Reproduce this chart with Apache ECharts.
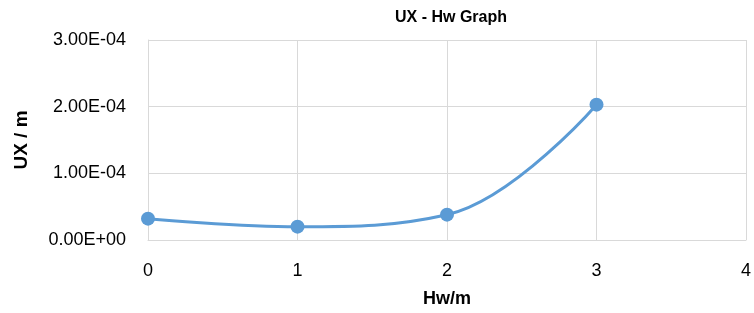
<!DOCTYPE html>
<html>
<head>
<meta charset="utf-8">
<script src="https://cdn.jsdelivr.net/npm/echarts@6/dist/echarts.min.js"></script>
<style>
  html,body{margin:0;padding:0;background:#fff;}
  #chart{width:754px;height:313px;}
</style>
</head>
<body>
<div id="chart"></div>
<script>
var hw = [0, 1, 2, 3]
var ux = [3.2e-5, 2.0e-5, 3.8e-5, 2.03e-4]

// Excel style: 1.00E-04
function sci(v){
    if (v === 0) return '0.00E+00'
    var e = Math.floor(Math.log10(Math.abs(v)) + 1e-9)
    var m = v / Math.pow(10, e)
    var s = e < 0 ? '-' : '+'
    var ee = Math.abs(e)
    return m.toFixed(2) + 'E' + s + (ee < 10 ? '0' + ee : ee)
}

var myChart = echarts.init(document.getElementById('chart'))
var font = 'Liberation Sans'
myChart.setOption({
    animation: false,
    title: {
        text: 'UX - Hw Graph',
        left: 446, top: 5, textAlign: 'center',
        textStyle: {fontFamily: font, fontSize: 16, fontWeight: 'bold', color: '#000'}
    },
    grid: {left: 148, right: 6, top: 40, bottom: 73},
    xAxis: {
        type: 'value', min: 0, max: 4, interval: 1,
        name: 'Hw/m', nameLocation: 'middle', nameGap: 50,
        nameTextStyle: {fontFamily: font, fontSize: 18, fontWeight: 'bold', color: '#000'},
        axisLine: {lineStyle: {color: '#d9d9d9', width: 1}},
        axisTick: {show: false},
        axisLabel: {fontFamily: font, fontSize: 18, color: '#000', margin: 22},
        splitLine: {lineStyle: {color: '#d9d9d9', width: 1}}
    },
    yAxis: {
        type: 'value', min: 0, max: 3e-4, interval: 1e-4,
        name: 'UX / m', nameLocation: 'middle', nameGap: 117,
        nameTextStyle: {fontFamily: font, fontSize: 19, fontWeight: 'bold', color: '#000'},
        axisLine: {show: true, lineStyle: {color: '#d9d9d9', width: 1}},
        axisTick: {show: false},
        axisLabel: {fontFamily: font, fontSize: 18, color: '#000', margin: 22, formatter: sci},
        splitLine: {lineStyle: {color: '#d9d9d9', width: 1}}
    },
    series: [{
        type: 'line',
        data: hw.map(function(x, i){ return [x, ux[i]] }),
        smooth: 0.4,
        symbol: 'circle', symbolSize: 14,
        lineStyle: {color: '#5b9bd5', width: 3},
        itemStyle: {color: '#5b9bd5'}
    }]
})
</script>
</body>
</html>
